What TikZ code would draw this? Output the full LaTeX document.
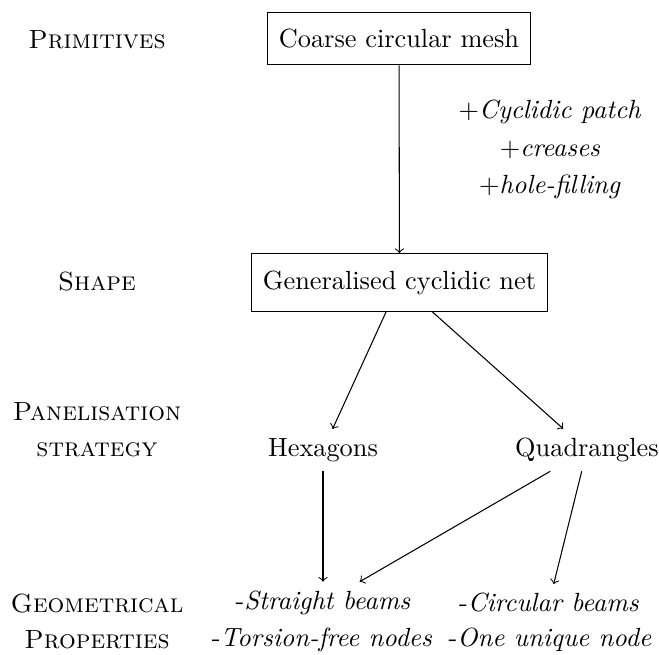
\documentclass[tikz,border=0pt]{standalone}
\begin{document}
\begin{tikzpicture}[x=0.38pt,y=-0.38pt,
  box/.style={draw, inner xsep=4.2pt, inner ysep=6.4pt},
  arr/.style={->}]
\useasboundingbox (0,0) rectangle (659,655);
% main flow
\node[box] (mesh) at (399,38.5) {Coarse circular mesh};
\node[box] (net) at (399.5,282.5) {Generalised cyclidic net};
\node (hex) at (323,450) {Hexagons};
\node (quad) at (587,450) {Quadrangles};
\node (straight) at (323,603) {-\textit{Straight beams}};
\node (torsion) at (322,640) {-\textit{Torsion-free nodes}};
\node (circ) at (549,603) {-\textit{Circular beams}};
\node (unique) at (550,640) {-\textit{One unique node}};
% operations
\node (op1) at (550,112) {$+$\textit{Cyclidic patch}};
\node (op2) at (550,150) {$+$\textit{creases}};
\node (op3) at (550,187) {$+$\textit{hole-filling}};
% row labels
\node (prim) at (97,40) {\textsc{Primitives}};
\node (shape) at (97,282) {\textsc{Shape}};
\node (panel) at (97,412) {\textsc{Panelisation}};
\node (strat) at (97,450) {\textsc{strategy}};
\node (geom) at (97,604) {\textsc{Geometrical}};
\node (prop) at (97,640) {\textsc{Properties}};
% connectors
\draw[arr] (mesh) -- (net);
\draw[arr] (net) -- (hex);
\draw[arr] (net) -- (quad);
\draw[arr] (hex) -- (straight);
\draw[arr] (quad) -- (straight);
\draw[arr] (quad) -- (circ);
\end{tikzpicture}
\end{document}
